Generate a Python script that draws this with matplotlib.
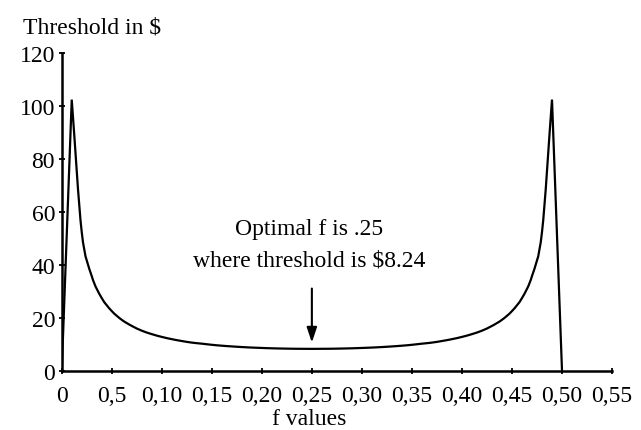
import matplotlib
matplotlib.use("Agg")
import matplotlib.pyplot as plt
import matplotlib.transforms as mtransforms
from matplotlib.path import Path
from matplotlib.patches import PathPatch

f_values = [0.00, 0.01, 0.02, 0.03, 0.04, 0.05, 0.06, 0.07, 0.08, 0.09,
            0.10, 0.11, 0.12, 0.13, 0.14, 0.15, 0.16, 0.17, 0.18, 0.19,
            0.20, 0.21, 0.22, 0.23, 0.24, 0.25, 0.26, 0.27, 0.28, 0.29,
            0.30, 0.31, 0.32, 0.33, 0.34, 0.35, 0.36, 0.37, 0.38, 0.39,
            0.40, 0.41, 0.42, 0.43, 0.44, 0.45, 0.46, 0.47, 0.48, 0.49, 0.50]
threshold = [0.0, 102.3, 52.3, 35.7, 27.4, 22.5, 19.2, 16.9, 15.1, 13.8,
             12.75, 11.9, 11.2, 10.6, 10.2, 9.77, 9.43, 9.16, 8.92, 8.73,
             8.58, 8.45, 8.36, 8.29, 8.26, 8.24, 8.26, 8.29, 8.36, 8.45,
             8.58, 8.73, 8.92, 9.16, 9.43, 9.77, 10.2, 10.6, 11.2, 11.9,
             12.75, 13.8, 15.1, 16.9, 19.2, 22.5, 27.4, 35.7, 52.3, 102.3, 0.0]

x_ticks = [0.00, 0.05, 0.10, 0.15, 0.20, 0.25, 0.30, 0.35, 0.40, 0.45, 0.50, 0.55]
x_tick_labels = ["0", "0,5", "0,10", "0,15", "0,20", "0,25", "0,30", "0,35",
                 "0,40", "0,45", "0,50", "0,55"]
y_ticks = [0, 20, 40, 60, 80, 100, 120]

optimal_f = 0.25
annot_line1 = "Optimal f is .25"
annot_line2 = "where threshold is $8.24"

plt.rcParams['font.family'] = ['Liberation Serif', 'DejaVu Serif']

fig = plt.figure(figsize=(6.41, 4.31), dpi=100)
ax = fig.add_axes([0.0963, 0.1376, 0.8585, 0.7378])

# smoothed line (like a spreadsheet "smoothed line"), sharp at the two spikes
n = len(f_values)
pts = list(zip(f_values, threshold))
verts = [pts[0], pts[1]]
codes = [Path.MOVETO, Path.LINETO]
for i in range(1, n - 2):
    p0 = pts[i - 1] if i > 1 else None
    p1 = pts[i]
    p2 = pts[i + 1]
    p3 = pts[i + 2] if i + 2 < n - 1 else None
    if p0 is None:
        c1 = (p1[0] + (p2[0] - p1[0]) / 3, p1[1] + (p2[1] - p1[1]) / 3)
    else:
        c1 = (p1[0] + (p2[0] - p0[0]) / 6, p1[1] + (p2[1] - p0[1]) / 6)
    if p3 is None:
        c2 = (p2[0] - (p2[0] - p1[0]) / 3, p2[1] - (p2[1] - p1[1]) / 3)
    else:
        c2 = (p2[0] - (p3[0] - p1[0]) / 6, p2[1] - (p3[1] - p1[1]) / 6)
    verts += [c1, c2, p2]
    codes += [Path.CURVE4, Path.CURVE4, Path.CURVE4]
verts.append(pts[-1])
codes.append(Path.LINETO)
ax.add_patch(PathPatch(Path(verts, codes), fill=False, edgecolor='black',
                       lw=1.6, joinstyle='miter', capstyle='butt'))

ax.set_xlim(0, 0.55)
ax.set_ylim(0, 120)
ax.set_xticks(x_ticks)
ax.set_xticklabels(x_tick_labels)
ax.set_yticks(y_ticks)

for s in ['top', 'right']:
    ax.spines[s].set_visible(False)
for s in ['left', 'bottom']:
    ax.spines[s].set_linewidth(1.8)
    ax.spines[s].set_color('black')

ax.tick_params(axis='both', direction='inout', length=4, width=1.3,
               labelsize=17, colors='black')
ax.tick_params(axis='x', pad=8.5)
ax.tick_params(axis='y', pad=2.8)

blend = mtransforms.blended_transform_factory(ax.transData, ax.transAxes)
ax.text(0.2475, (371.7 - 425.5) / 318.0, "f values", fontsize=17,
        ha='center', va='baseline', transform=blend)

fig.text(23 / 641, 1 - 33.3 / 431, "Threshold in $", fontsize=17,
         ha='left', va='baseline')

ax.text(0.2475, 51.6, annot_line1, fontsize=17, ha='center', va='baseline')
ax.text(0.2475, 39.6, annot_line2, fontsize=17, ha='center', va='baseline')

ax.annotate("", xy=(optimal_f, 10.6), xytext=(optimal_f, 31),
            arrowprops=dict(arrowstyle='-|>,head_width=0.3,head_length=0.9',
                            color='black', lw=1.5, shrinkA=0, shrinkB=0))

fig.savefig("out.png", dpi=100)
